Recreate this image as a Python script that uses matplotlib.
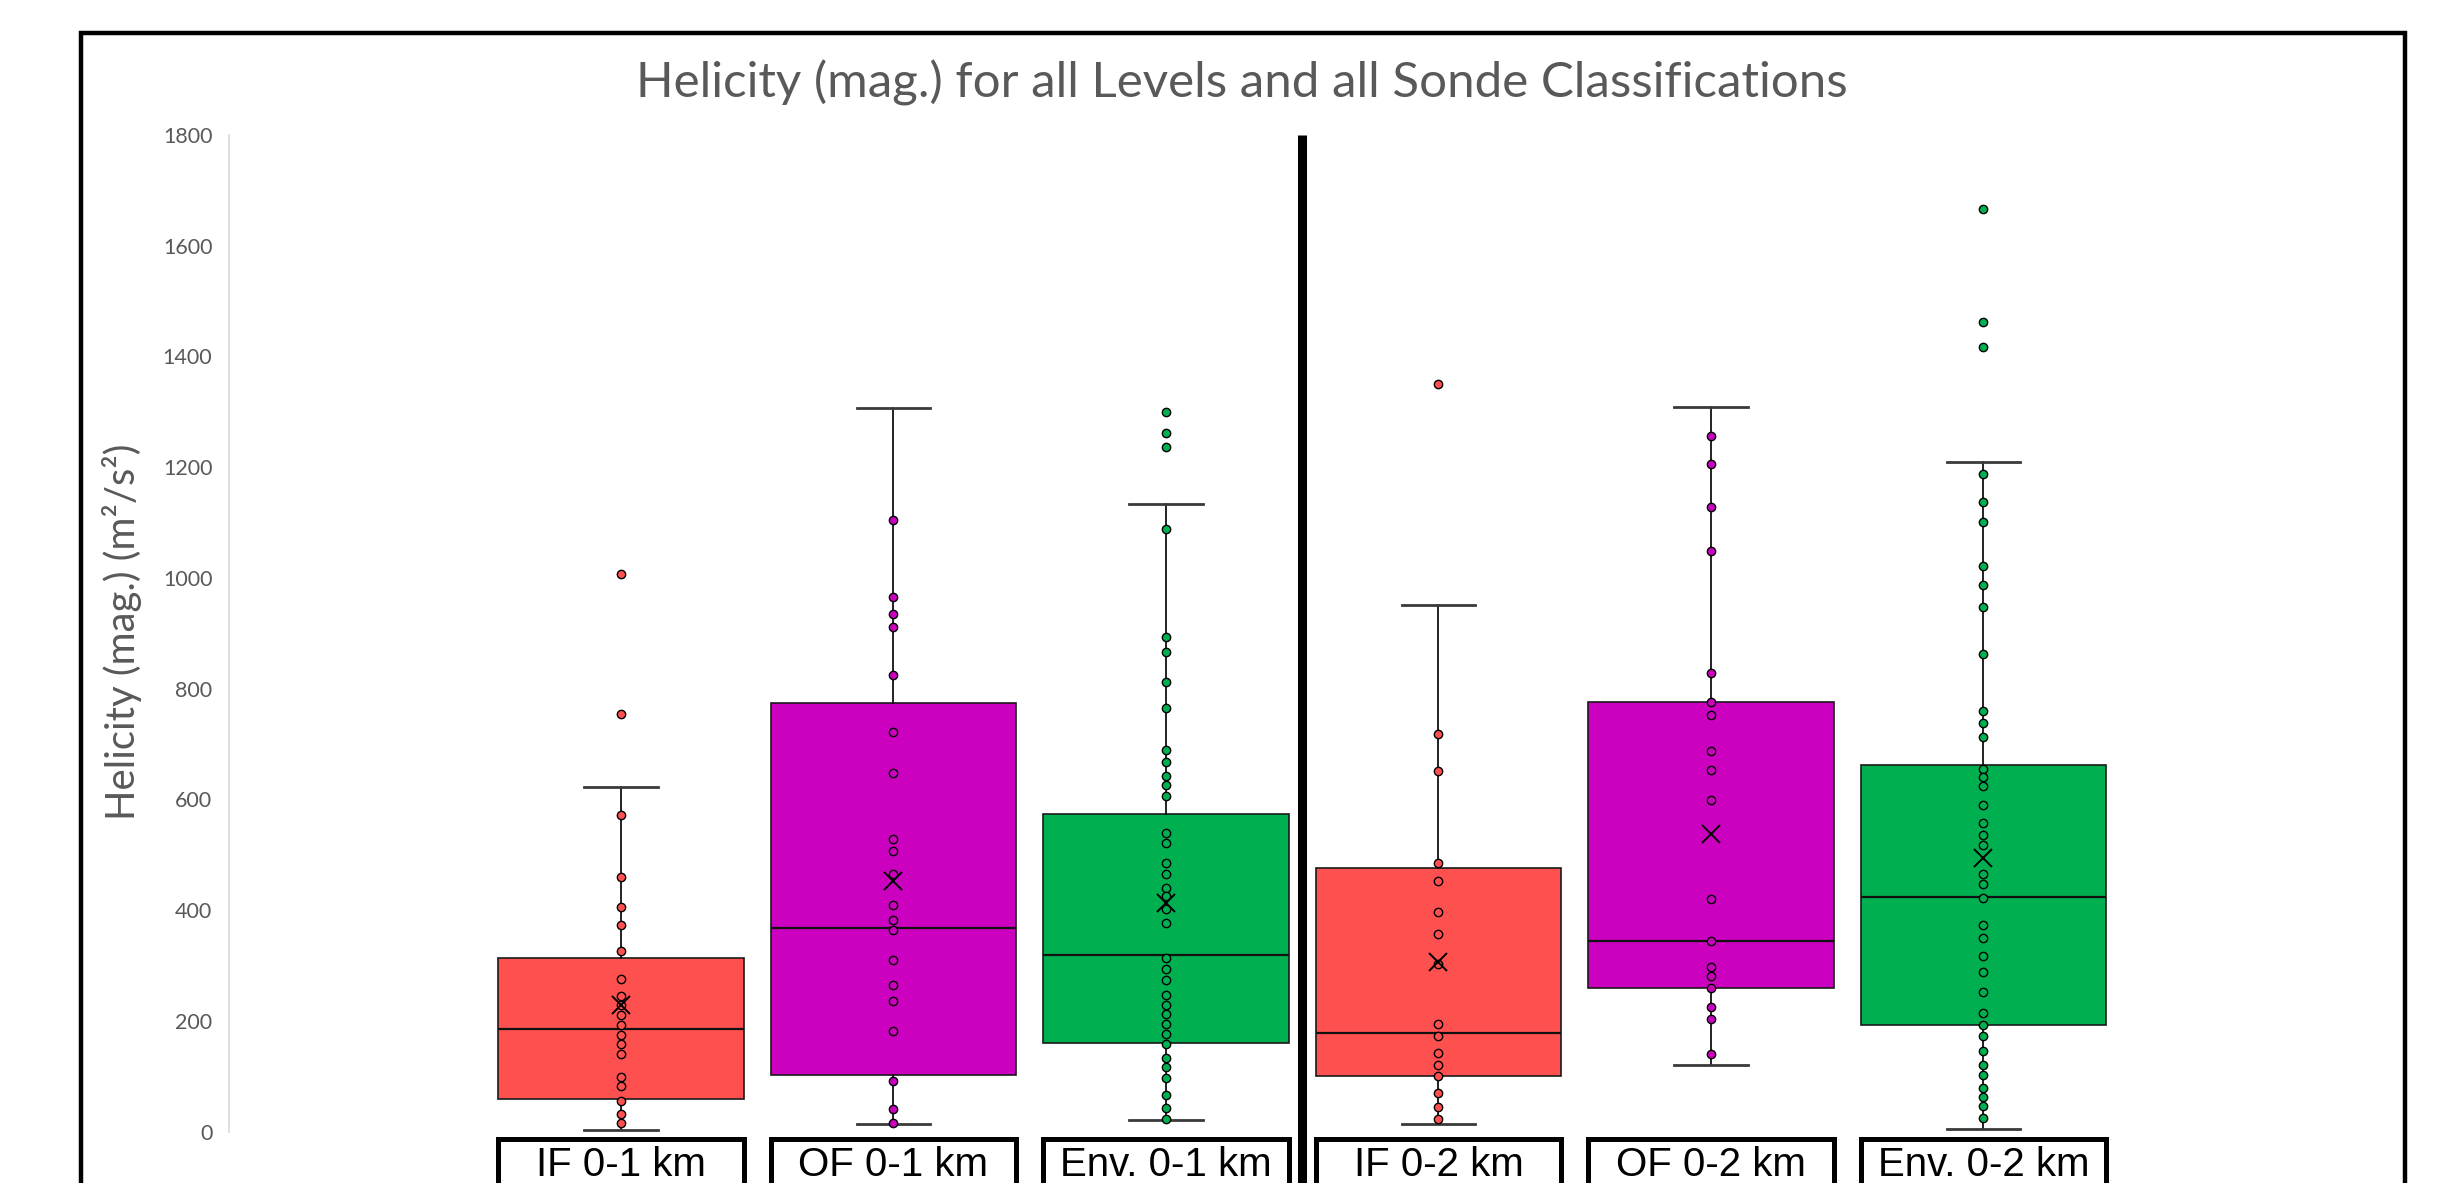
import matplotlib
matplotlib.use("Agg")
import matplotlib.pyplot as plt
from matplotlib.patches import Rectangle

# values (m2/s2)
categories = ["IF 0-1 km", "OF 0-1 km", "Env. 0-1 km", "IF 0-2 km", "OF 0-2 km", "Env. 0-2 km"]
colors = ["#FF5050", "#CC00BF", "#00B050", "#FF5050", "#CC00BF", "#00B050"]

q1 = [58, 103, 160, 100, 259, 193]
median = [186, 368, 319, 178, 345, 424]
q3 = [313, 774, 573, 476, 776, 662]
whisker_low = [3, 14, 21, 14, 120, 4]
whisker_high = [622, 1307, 1133, 952, 1309, 1210]
mean = [228, 452, 413, 306, 537, 495]

points_if_01 = [1008, 754, 571, 459, 406, 374, 327, 275, 245, 228, 210, 192, 175,
                158, 141, 98, 82, 56, 31, 15]
points_of_01 = [1104, 966, 935, 912, 825, 722, 647, 528, 506, 466, 410, 383, 364,
                310, 265, 235, 181, 92, 41, 16]
points_env_01 = [1300, 1261, 1237, 1089, 894, 867, 812, 765, 689, 668, 643, 626, 607,
                 540, 521, 486, 465, 440, 426, 402, 377, 313, 293, 273, 247, 229, 212,
                 194, 177, 159, 133, 116, 96, 66, 42, 22]
points_if_02 = [1351, 718, 651, 485, 453, 396, 356, 302, 194, 173, 142, 120, 101,
                69, 45, 23]
points_of_02 = [1257, 1205, 1129, 1049, 828, 776, 752, 687, 654, 599, 420, 345, 298,
                281, 259, 225, 204, 141]
points_env_02 = [1666, 1462, 1418, 1187, 1137, 1101, 1022, 987, 947, 862, 760, 738,
                 712, 655, 640, 624, 589, 558, 536, 518, 465, 447, 422, 374, 350, 318,
                 288, 253, 215, 193, 173, 146, 120, 102, 79, 63, 46, 24]
all_points = [points_if_01, points_of_01, points_env_01,
              points_if_02, points_of_02, points_env_02]

gray = "#595959"
W, H = 2439, 1183

fig = plt.figure(figsize=(W / 100, H / 100), dpi=100)
ax = fig.add_axes([229 / W, 1 - 1131.6 / H, 2121 / W, (1131.6 - 135) / H])

positions = list(range(1, len(categories) + 1))
stats = []
for i in range(len(categories)):
    stats.append({"q1": q1[i], "med": median[i], "q3": q3[i],
                  "whislo": whisker_low[i], "whishi": whisker_high[i],
                  "mean": mean[i], "fliers": []})

bp = ax.bxp(stats, positions=positions, widths=0.9, capwidths=0.27,
            patch_artist=True, showmeans=True, showfliers=False,
            boxprops=dict(edgecolor="#1a1a1a", linewidth=1.2),
            medianprops=dict(color="#111111", linewidth=1.6),
            whiskerprops=dict(color="#111111", linewidth=1.3),
            capprops=dict(color="#3a3a3a", linewidth=2.0),
            meanprops=dict(marker="x", markersize=13, markeredgecolor="black",
                           markeredgewidth=1.4, zorder=5))
for patch, c in zip(bp["boxes"], colors):
    patch.set_facecolor(c)

# inner points and outliers
for pos, pts, c in zip(positions, all_points, colors):
    ax.plot([pos] * len(pts), pts, "o", markersize=6, markerfacecolor=c,
            markeredgecolor="black", markeredgewidth=1.0, zorder=4)

ax.set_xlim(-0.4385, -0.4385 + 2121 / 272.5)
ax.set_ylim(0, 1800)
ax.set_yticks(range(0, 1801, 200))
ax.tick_params(axis="y", length=0, pad=12, labelsize=15.5, labelcolor=gray)
ax.set_xticks([])
for s in ["top", "right", "bottom"]:
    ax.spines[s].set_visible(False)
ax.spines["left"].set_color("#D9D9D9")
ax.spines["left"].set_linewidth(1.2)
for lab in ax.get_yticklabels():
    lab.set_family("Lato")

# thick separator between the 0-1 km and 0-2 km groups
ax.plot([3.5, 3.5], [1800, -200], color="black", linewidth=6.5, clip_on=False,
        solid_capstyle="butt", zorder=6)

# category boxes under the plot
for pos, name in zip(positions, categories):
    ax.add_patch(Rectangle((pos - 0.45, -300), 0.9, 287, facecolor="white",
                           edgecolor="black", linewidth=3.6, clip_on=False))
    ax.text(pos, -80, name, ha="center", va="baseline", fontsize=29,
            family=["Liberation Sans Narrow", "Liberation Sans"], clip_on=False)

# outer frame
fig.patches.append(Rectangle((81 / W, -0.1), (2405 - 81) / W, 1.1 - 33.5 / H,
                             transform=fig.transFigure, fill=False,
                             edgecolor="black", linewidth=3.2))

title = fig.text(1242 / W, 1 - 97 / H,
                 "Helicity (mag.) for all Levels and all Sonde Classifications",
                 ha="center", va="baseline", color=gray, family="Lato", fontsize=30)
ylab = fig.text(122 / W, 1 - 632 / H, "Helicity (mag.) (m²/s²)", rotation=90,
                ha="center", va="center", color=gray, family="Lato", fontsize=20)

# scale the two texts to the widths seen on the reference
fig.canvas.draw()
r = fig.canvas.get_renderer()
for t, target in [(title, 1211), (ylab, 377)]:
    bb = t.get_window_extent(r)
    size = max(bb.width, bb.height)
    t.set_fontsize(t.get_fontsize() * target / size)

fig.savefig("out.png", dpi=100)
